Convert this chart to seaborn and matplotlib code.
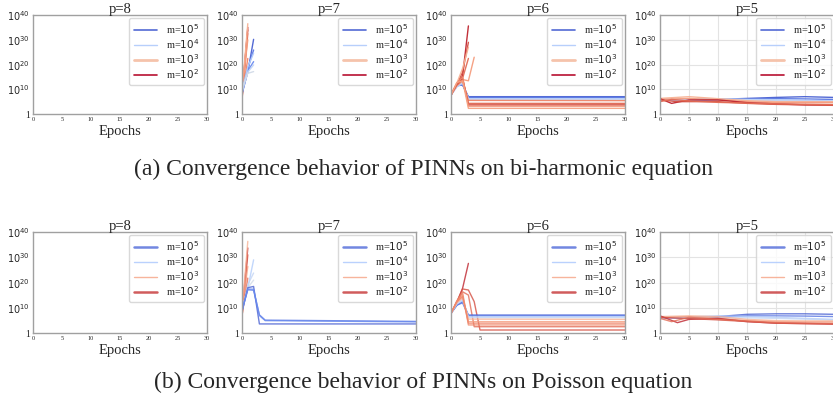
import matplotlib
matplotlib.use("Agg")
import matplotlib.pyplot as plt
from matplotlib.lines import Line2D
import numpy as np
import pandas as pd
import seaborn as sns

sns.set_style("white")
plt.rcParams["font.family"] = ["Liberation Serif", "DejaVu Serif"]
plt.rcParams["mathtext.fontset"] = "dejavusans"

# Training-loss trajectories, one tuple per run: (log10 m, epochs, log10 loss).
# A run that blows up simply stops at its last finite epoch.
m_exponents = [5, 4, 3, 2]
p_values = [8, 7, 6, 5]
epoch_ticks = [0, 5, 10, 15, 20, 25, 30]
loss_ticks = [0, 10, 20, 30, 40]

biharm_p8 = []
biharm_p7 = [
    (2, [0, 1], [7.6, 35.0]),
    (2, [0, 1], [8.2, 34.0]),
    (2, [0, 1], [5.8, 32.5]),
    (3, [0, 1], [8.8, 36.5]),
    (3, [0, 1], [9.5, 30.0]),
    (3, [0, 1], [7.0, 22.5]),
    (5, [0, 1, 2], [8.5, 17.0, 30.2]),
    (5, [0, 1, 2], [9.0, 18.5, 25.9]),
    (5, [0, 1, 2], [8.0, 17.5, 21.2]),
    (4, [0, 1, 2], [9.5, 19.0, 24.6]),
    (4, [0, 1, 2], [8.8, 17.0, 19.9]),
    (4, [0, 1, 2], [10.5, 16.5, 17.2]),
]
biharm_p6 = [
    (2, [0, 1, 2, 3], [7.8, 11.5, 15.5, 35.6]),
    (2, [0, 1, 2, 3], [7.6, 12.0, 17.0, 29.0]),
    (3, [0, 1, 2, 3], [8.0, 12.5, 18.5, 27.0]),
    (3, [0, 1, 2, 3, 4], [7.8, 12.0, 14.0, 13.5, 23.0]),
    (2, [0, 1, 2, 3], [8.0, 12.0, 14.5, 22.5]),
    (5, [0, 1, 2, 3, 30], [7.8, 11.5, 11.8, 7.1, 7.1]),
    (5, [0, 1, 2, 3, 30], [7.9, 11.8, 12.0, 6.8, 6.8]),
    (4, [0, 1, 2, 3, 30], [7.8, 11.0, 12.5, 6.3, 6.3]),
    (4, [0, 1, 2, 3, 30], [7.7, 11.2, 13.0, 6.0, 6.0]),
    (3, [0, 1, 2, 3, 30], [7.8, 11.5, 13.5, 5.6, 5.5]),
    (3, [0, 1, 2, 3, 30], [7.9, 12.0, 14.0, 4.4, 4.4]),
    (3, [0, 1, 2, 3, 30], [7.8, 12.2, 14.5, 3.8, 3.8]),
    (2, [0, 1, 2, 3, 30], [7.8, 12.5, 15.0, 3.3, 3.3]),
    (2, [0, 1, 2, 3, 30], [7.7, 12.8, 13.5, 2.4, 2.4]),
]
biharm_p5 = [
    (5, [0, 5, 10, 15, 20, 25, 30], [5.8, 5.8, 6.0, 6.4, 6.8, 7.1, 6.8]),
    (5, [0, 5, 10, 15, 20, 25, 30], [5.9, 5.7, 5.8, 6.1, 6.3, 6.2, 6.0]),
    (4, [0, 5, 10, 15, 20, 25, 30], [6.0, 6.1, 6.3, 6.0, 5.8, 5.6, 5.4]),
    (4, [0, 5, 10, 15, 20, 25, 30], [5.6, 5.9, 6.0, 5.9, 5.6, 5.3, 5.1]),
    (3, [0, 5, 10, 15, 20, 25, 30], [6.4, 7.1, 6.3, 5.5, 5.1, 5.1, 5.1]),
    (3, [0, 5, 10, 15, 20, 25, 30], [6.0, 6.4, 5.8, 5.1, 4.7, 4.7, 4.7]),
    (2, [0, 2, 5, 10, 15, 20, 25, 30], [6.3, 4.4, 5.8, 5.8, 4.7, 4.2, 3.8, 3.8]),
    (2, [0, 3, 10, 15, 20, 30], [5.8, 5.1, 5.1, 4.4, 4.0, 3.6]),
    (2, [0, 2, 5, 10, 20, 30], [5.1, 6.0, 5.4, 4.8, 4.2, 3.9]),
]

poisson_p8 = []
poisson_p7 = [
    (2, [0, 1], [7.9, 33.7]),
    (2, [0, 1], [6.5, 31.0]),
    (3, [0, 1], [8.5, 36.3]),
    (3, [0, 1], [9.0, 26.4]),
    (2, [0, 1], [7.0, 21.8]),
    (4, [0, 1, 2], [9.2, 17.8, 29.0]),
    (4, [0, 1, 2], [8.5, 19.2, 23.8]),
    (4, [0, 1, 2], [9.5, 18.0, 21.0]),
    (5, [0, 1, 2, 3, 30], [8.6, 18.0, 18.5, 3.7, 3.7]),
    (5, [0, 1, 2, 3, 4, 30], [9.0, 17.2, 17.0, 7.3, 5.2, 4.7]),
    (5, [0, 1, 2, 3, 4, 30], [8.8, 17.5, 17.4, 7.0, 5.0, 4.5]),
]
poisson_p6 = [
    (2, [0, 1, 2, 3], [7.9, 12.0, 17.8, 27.6]),
    (2, [0, 1, 2, 3, 4, 5, 30], [7.9, 12.5, 17.5, 17.1, 12.5, 1.3, 1.3]),
    (2, [0, 1, 2, 3, 4, 30], [7.8, 12.0, 16.4, 15.1, 2.6, 2.6]),
    (5, [0, 1, 2, 3, 30], [7.9, 11.0, 12.5, 7.2, 7.2]),
    (5, [0, 1, 2, 3, 30], [7.8, 11.2, 12.0, 7.0, 7.0]),
    (4, [0, 1, 2, 3, 30], [7.9, 11.5, 13.0, 6.6, 6.6]),
    (4, [0, 1, 2, 3, 30], [7.8, 11.8, 13.5, 6.2, 6.2]),
    (3, [0, 1, 2, 3, 30], [7.9, 12.0, 14.0, 5.6, 5.5]),
    (3, [0, 1, 2, 3, 30], [7.8, 12.3, 15.1, 4.6, 4.6]),
    (3, [0, 1, 2, 3, 30], [7.9, 12.5, 14.5, 4.0, 4.0]),
    (2, [0, 1, 2, 3, 30], [7.8, 12.8, 16.0, 3.3, 3.3]),
]
poisson_p5 = [
    (5, [0, 5, 10, 15, 20, 25, 30], [5.9, 6.2, 6.6, 7.5, 7.7, 7.7, 7.5]),
    (5, [0, 5, 10, 15, 20, 25, 30], [5.9, 6.0, 6.3, 6.9, 6.9, 6.8, 6.6]),
    (4, [0, 5, 10, 15, 20, 25, 30], [6.3, 6.5, 6.9, 6.6, 6.3, 5.9, 5.5]),
    (4, [0, 5, 10, 15, 20, 25, 30], [5.9, 6.2, 6.2, 6.1, 5.9, 5.6, 5.3]),
    (3, [0, 5, 10, 15, 20, 25, 30], [6.6, 6.9, 6.6, 5.5, 5.0, 4.9, 4.9]),
    (3, [0, 5, 10, 15, 20, 25, 30], [6.2, 6.6, 5.9, 5.0, 4.6, 4.5, 4.5]),
    (2, [0, 3, 5, 10, 15, 20, 30], [6.9, 4.2, 5.5, 5.9, 4.6, 4.0, 3.7]),
    (2, [0, 10, 20, 30], [6.3, 5.3, 4.0, 3.6]),
    (2, [0, 2, 5, 10, 20, 30], [5.9, 4.6, 6.3, 5.5, 4.2, 3.9]),
]

rows = [
    dict(panels=[biharm_p8, biharm_p7, biharm_p6, biharm_p5],
         caption="(a) Convergence behavior of PINNs on bi-harmonic equation",
         top=15, bottom=114.3, caption_y=169, alpha=0.95,
         legend_pos={5: 0.05, 4: 0.36, 3: 0.64, 2: 1.0},
         legend_lw={5: 1.2, 4: 1.0, 3: 2.0, 2: 1.2}),
    dict(panels=[poisson_p8, poisson_p7, poisson_p6, poisson_p5],
         caption="(b) Convergence behavior of PINNs on Poisson equation",
         top=232, bottom=333.3, caption_y=382, alpha=0.8,
         legend_pos={5: 0.07, 4: 0.33, 3: 0.73, 2: 0.95},
         legend_lw={5: 1.8, 4: 1.0, 3: 1.0, 2: 1.8}),
]

# base position of each m on the coolwarm map
cmap = matplotlib.colormaps["coolwarm"]
base_pos = {5: 0.05, 4: 0.36, 3: 0.68, 2: 0.97}
step_pos = {5: 0.05, 4: 0.05, 3: 0.06, 2: -0.06}

W, H = 833, 407
fig = plt.figure(figsize=(W / 100, H / 100), dpi=100)
lefts = [33, 242, 451, 660]
width = 174
spine_color = "#a0a0a0"

for row in rows:
    for col, (p, runs) in enumerate(zip(p_values, row["panels"])):
        ax = fig.add_axes([lefts[col] / W, 1 - row["bottom"] / H, width / W,
                           (row["bottom"] - row["top"]) / H])
        if runs:
            records = []
            palette = {}
            seen = {}
            for i, (me, ep, lv) in enumerate(runs):
                k = seen.get(me, 0)
                seen[me] = k + 1
                rid = f"run{i}"
                palette[rid] = cmap(min(max(base_pos[me] + step_pos[me] * k, 0), 1))
                for e, v in zip(ep, lv):
                    records.append(dict(epoch=e, loss=10.0 ** v, run=rid))
            df = pd.DataFrame(records)
            sns.lineplot(data=df, x="epoch", y="loss", hue="run", palette=palette,
                         estimator=None, sort=False, legend=False, ax=ax,
                         linewidth=1.0, alpha=row["alpha"])
        ax.set_yscale("log")
        ax.set_ylim(1, 1e40)
        ax.set_xlim(0, 30)
        ax.set_yticks([10.0 ** t for t in loss_ticks])
        ax.set_yticklabels(["1" if t == 0 else f"$10^{{{t}}}$" for t in loss_ticks],
                           fontsize=7)
        ax.yaxis.set_minor_locator(matplotlib.ticker.NullLocator())
        ax.set_xticks(epoch_ticks)
        ax.set_xticklabels([str(t) for t in epoch_ticks], fontsize=4.5)
        ax.tick_params(axis="both", length=0, pad=2)
        ax.set_xlabel("Epochs", fontsize=10.5, labelpad=2)
        ax.set_ylabel("")
        ax.set_title(f"p={p}", fontsize=10.5, pad=1.5)
        for s in ax.spines.values():
            s.set_color(spine_color)
            s.set_linewidth(1.0)
        if p == 5:
            ax.grid(True, color="#e3e3e3", linewidth=0.8)
            ax.set_axisbelow(True)
        handles = [Line2D([], [], color=cmap(row["legend_pos"][me]),
                          linewidth=row["legend_lw"][me], alpha=row["alpha"])
                   for me in m_exponents]
        labels = [f"m=$10^{me}$" for me in m_exponents]
        ax.legend(handles, labels, loc="upper right", fontsize=7.5,
                  frameon=True, fancybox=True, edgecolor="#d0d0d0",
                  handlelength=2.2, labelspacing=0.1, borderaxespad=0.25,
                  borderpad=0.45, handletextpad=0.9)
    fig.text(0.508, 1 - row["caption_y"] / H, row["caption"], ha="center",
             va="center", fontsize=17)

fig.savefig("out.png", dpi=100)
